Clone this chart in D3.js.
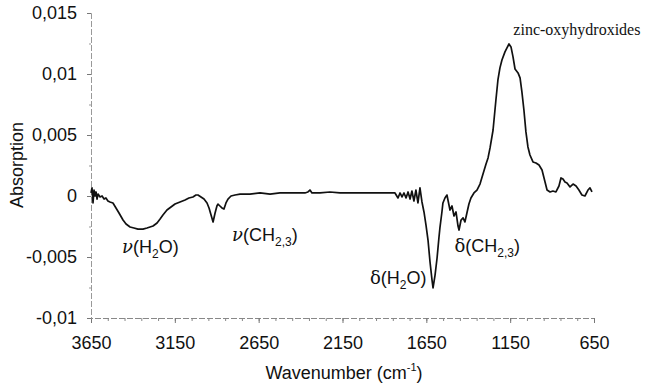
<!DOCTYPE html>
<html>
<head>
<meta charset="utf-8">
<script src="https://cdn.jsdelivr.net/npm/d3@7"></script>
<style>
  html, body { margin: 0; padding: 0; background: #fff; }
  svg { display: block; }
  text { fill: #111; }
</style>
</head>
<body>
<svg id="chart" width="646" height="385"></svg>
<script>
// ---- data ----
const wavenumber = [3650,3644,3638,3632,3626,3620,3614,3608,3596,3584,3572,3561,3549,3537,3519,3501,3483,3459,3441,3417,3394,3370,3340,3316,3298,3280,3256,3238,3221,3197,3173,3149,3119,3089,3066,3042,3024,3012,2994,2976,2958,2946,2934,2922,2910,2899,2893,2881,2869,2857,2845,2833,2815,2791,2761,2702,2642,2582,2523,2463,2403,2374,2356,2344,2332,2284,2225,2165,2105,2046,1986,1926,1867,1837,1819,1807,1795,1783,1771,1759,1747,1736,1724,1712,1700,1688,1676,1664,1652,1640,1628,1616,1610,1598,1586,1575,1569,1557,1551,1539,1527,1521,1509,1497,1485,1473,1461,1455,1443,1431,1420,1408,1396,1384,1366,1348,1330,1312,1294,1282,1270,1252,1235,1223,1211,1199,1181,1169,1157,1145,1133,1121,1103,1091,1080,1068,1056,1044,1032,1014,996,978,960,942,930,912,895,877,859,847,835,823,811,793,775,757,740,722,704,686,674,662,650];
const absorbance = [0.00025,0.00066,-0.00057,0.00049,0,0.00033,-0.00025,0.00016,-0.00008,0,-0.00025,-0.00016,-0.00041,-0.00049,-0.00057,-0.00098,-0.00139,-0.00197,-0.0023,-0.00254,-0.00262,-0.00271,-0.00271,-0.00262,-0.00254,-0.00246,-0.00221,-0.00189,-0.00156,-0.00115,-0.0009,-0.00066,-0.00049,-0.00033,-0.00016,-0.00008,0.00008,0.00008,-0.00008,-0.00025,-0.00057,-0.00098,-0.00156,-0.00213,-0.00139,-0.00082,-0.00066,-0.00082,-0.00098,-0.00107,-0.00057,-0.00025,0,0.00008,0.00016,0.00016,0.00025,0.00016,0.00025,0.00025,0.00025,0.00025,0.00033,0.00049,0.00025,0.00025,0.00033,0.00025,0.00025,0.00025,0.00025,0.00025,0.00025,0.00025,-0.00016,0.00025,-0.00008,0.00025,-0.00016,0.00033,-0.00025,0.00041,-0.00041,0.00049,-0.00057,0.00066,-0.00049,-0.00131,-0.00238,-0.00361,-0.00541,-0.00689,-0.00754,-0.00648,-0.00508,-0.00344,-0.00262,-0.00131,-0.00057,-0.00016,0.00008,-0.00033,-0.00115,-0.00082,-0.00164,-0.00131,-0.00246,-0.00279,-0.00197,-0.0018,-0.00213,-0.00139,-0.00066,-0.00016,0.00025,0.00049,0.00098,0.0018,0.00262,0.00312,0.00394,0.00541,0.00787,0.00951,0.0105,0.01115,0.01181,0.01214,0.01246,0.01222,0.0114,0.01041,0.01009,0.00968,0.00853,0.00705,0.00525,0.00402,0.00336,0.00279,0.00271,0.00254,0.00213,0.00115,0.00049,0.00033,0.00041,0.00033,0.00082,0.00148,0.00139,0.00115,0.00107,0.00074,0.00098,0.00082,0.00049,0.00008,0,0.00049,0.00066,0.00033];
const xTickValues = [3650, 3150, 2650, 2150, 1650, 1150, 650];
const yTickValues = [-0.01, -0.005, 0, 0.005, 0.01, 0.015];
const annotations = [
  { greek: "ν", main: "(H", sub: "2", tail: "O)", wn: 3465, ab: -0.0047 },
  { greek: "ν", main: "(CH", sub: "2,3", tail: ")", wn: 2809, ab: -0.0037 },
  { greek: "δ", main: "(H", sub: "2", tail: "O)", wn: 1986, ab: -0.0072 },
  { greek: "δ", main: "(CH", sub: "2,3", tail: ")", wn: 1482, ab: -0.0046 }
];
const peakLabel = { text: "zinc-oxyhydroxides", wn: 752, ab: 0.0132 };

// ---- chart ----
const SANS = "'Liberation Sans', Arial, sans-serif";
const SERIF = "'Liberation Serif', 'Times New Roman', serif";
const svg = d3.select("#chart");
const x = d3.scaleLinear().domain([3650, 650]).range([91, 594]);
const y = d3.scaleLinear().domain([-0.01, 0.015]).range([318, 13]);
const fmt = v => String(+v.toFixed(3)).replace(".", ",");

// minor ticks
const minorX = d3.range(3650, 649, -100);
svg.append("g").attr("transform", "translate(0,318)")
  .call(d3.axisBottom(x).tickValues(minorX).tickSize(3).tickFormat(""))
  .call(g => g.select(".domain").remove())
  .call(g => g.selectAll("line").attr("stroke", "#888"));
const minorY = d3.range(-0.01, 0.0151, 0.0025);
svg.append("g").attr("transform", "translate(91,0)")
  .call(d3.axisLeft(y).tickValues(minorY).tickSize(2).tickFormat(""))
  .call(g => g.select(".domain").remove())
  .call(g => g.selectAll("line").attr("stroke", "#999"));

// x axis
svg.append("g").attr("transform", "translate(0,318)")
  .call(d3.axisBottom(x).tickValues(xTickValues).tickSize(5).tickPadding(13).tickFormat(d => d))
  .call(g => g.select(".domain").attr("stroke", "#888").attr("stroke-dasharray", "6,2"))
  .call(g => g.selectAll("line").attr("stroke", "#777"))
  .call(g => g.selectAll("text").attr("font-size", 18).style("font-family", SANS).attr("fill", "#111"));

// y axis
svg.append("g").attr("transform", "translate(91,0)")
  .call(d3.axisLeft(y).tickValues(yTickValues).tickSize(4).tickPadding(10).tickFormat(fmt))
  .call(g => g.select(".domain").attr("stroke", "#999").attr("stroke-dasharray", "6,2"))
  .call(g => g.selectAll("line").attr("stroke", "#777"))
  .call(g => g.selectAll("text").attr("font-size", 18).style("font-family", SANS).attr("fill", "#111"));

// axis titles
svg.append("text").attr("x", 344).attr("y", 379).attr("text-anchor", "middle")
  .attr("font-size", 18).style("font-family", SANS)
  .call(t => {
    t.append("tspan").text("Wavenumber (cm");
    t.append("tspan").attr("font-size", 11).attr("dy", -8).text("-1");
    t.append("tspan").attr("dy", 8).text(")");
  });
svg.append("text").attr("transform", "translate(23,165) rotate(-90)")
  .attr("text-anchor", "middle").attr("font-size", 18).style("font-family", SANS).text("Absorption");

// spectrum line
const line = d3.line().x((d, i) => x(wavenumber[i])).y((d, i) => y(absorbance[i]));
svg.append("path").datum(absorbance)
  .attr("d", line).attr("fill", "none").attr("stroke", "#111")
  .attr("stroke-width", 1.7).attr("stroke-linejoin", "round");

// annotations
annotations.forEach(a => {
  const t = svg.append("text").attr("x", x(a.wn)).attr("y", y(a.ab)).attr("font-size", 18).style("font-family", SANS);
  t.append("tspan").style("font-family", "'DejaVu Serif', serif").style("font-style", a.greek === "ν" ? "italic" : "normal").text(a.greek);
  t.append("tspan").text(a.main);
  t.append("tspan").attr("font-size", 12).attr("dy", 5).text(a.sub);
  t.append("tspan").attr("dy", -5).text(a.tail);
});
svg.append("text").attr("x", x(peakLabel.wn)).attr("y", y(peakLabel.ab))
  .style("font-family", SERIF)
  .attr("font-size", 16).attr("text-anchor", "middle").text(peakLabel.text);
</script>
</body>
</html>
